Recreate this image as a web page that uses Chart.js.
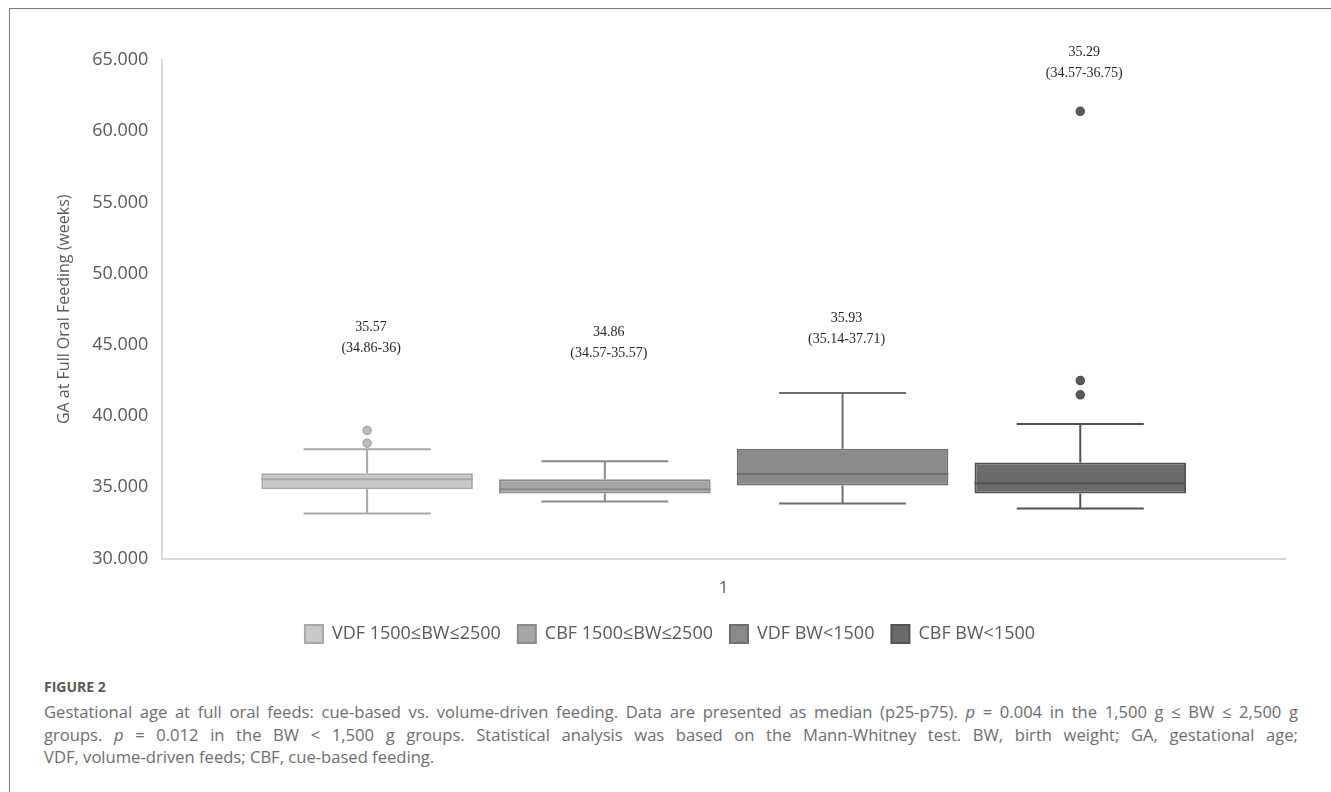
<!DOCTYPE html>
<html>
<head>
<meta charset="utf-8">
<script src="https://cdn.jsdelivr.net/npm/chart.js@4.4.1/dist/chart.umd.min.js"></script>
<style>
  html, body { margin: 0; padding: 0; background: #fff; }
  body { width: 1331px; height: 792px; position: relative; overflow: hidden; font-family: "Open Sans", sans-serif; }
  .frame { position: absolute; left: 9px; top: 8px; width: 1330px; height: 800px; border-top: 1.5px solid #7a7a7a; border-left: 1.5px solid #7a7a7a; }
  .chart-wrap { position: absolute; left: 0; top: 0; width: 1331px; height: 670px; }
  .fig-label { position: absolute; left: 44px; top: 678px; font-size: 14px; line-height: 18px; font-weight: 700; color: #58595b; }
  .caption { position: absolute; left: 44px; top: 701px; width: 1254px; font-size: 16.6px; line-height: 22.5px; color: #6d6e71; }
  .caption div { white-space: nowrap; }
  .caption .full { text-align: justify; text-align-last: justify; }
</style>
</head>
<body>
<div class="frame"></div>
<div class="chart-wrap"><canvas id="gaChart"></canvas></div>
<div class="fig-label">FIGURE 2</div>
<div class="caption">
  <div class="full">Gestational age at full oral feeds: cue-based vs. volume-driven feeding. Data are presented as median (p25-p75). <i>p</i> = 0.004 in the 1,500 g ≤ BW ≤ 2,500 g</div>
  <div class="full">groups. <i>p</i> = 0.012 in the BW &lt; 1,500 g groups. Statistical analysis was based on the Mann-Whitney test. BW, birth weight; GA, gestational age;</div>
  <div>VDF, volume-driven feeds; CBF, cue-based feeding.</div>
</div>
<script>
// groups and box plot values (weeks)
const categories = ['1'];
const groups = ['VDF 1500≤BW≤2500', 'CBF 1500≤BW≤2500', 'VDF BW<1500', 'CBF BW<1500'];
const q1 = [34.86, 34.57, 35.14, 34.57];
const medians = [35.57, 34.86, 35.93, 35.29];
const q3 = [36, 35.57, 37.71, 36.75];
const whiskerLow = [33.17, 34.01, 33.87, 33.52];
const whiskerHigh = [37.68, 36.83, 41.62, 39.44];
const outliers = [[38.1, 39.0], [], [], [41.5, 42.5, 61.4]];
const yTicks = [30, 35, 40, 45, 50, 55, 60, 65];

// annotation text, placed at these y levels
const labelLines = [
  ['35.57', '(34.86-36)'],
  ['34.86', '(34.57-35.57)'],
  ['35.93', '(35.14-37.71)'],
  ['35.29', '(34.57-36.75)']
];
const labelLevels = [46.2, 45.9, 46.9, 65.56];

const fills = ['#c9c9c9', '#a6a6a6', '#8a8a8a', '#6b6b6b'];
const strokes = ['#a8a8a8', '#8a8a8a', '#6e6e6e', '#525252'];
const dotFills = ['#bdbdbd', '#a6a6a6', '#8a8a8a', '#5a5a5a'];

const boxExtras = {
  id: 'boxExtras',
  afterDatasetsDraw(chart) {
    const ctx = chart.ctx;
    const y = chart.scales.y;
    ctx.save();
    groups.forEach((g, i) => {
      const bar = chart.getDatasetMeta(i).data[0];
      const x = bar.x, w = bar.width;
      const cap = w * 0.3;
      ctx.strokeStyle = strokes[i];
      ctx.lineWidth = 2;
      ctx.beginPath();
      // median
      ctx.moveTo(x - w / 2, y.getPixelForValue(medians[i]));
      ctx.lineTo(x + w / 2, y.getPixelForValue(medians[i]));
      // whiskers
      ctx.moveTo(x, y.getPixelForValue(q3[i]));
      ctx.lineTo(x, y.getPixelForValue(whiskerHigh[i]));
      ctx.moveTo(x, y.getPixelForValue(q1[i]));
      ctx.lineTo(x, y.getPixelForValue(whiskerLow[i]));
      ctx.moveTo(x - cap, y.getPixelForValue(whiskerHigh[i]));
      ctx.lineTo(x + cap, y.getPixelForValue(whiskerHigh[i]));
      ctx.moveTo(x - cap, y.getPixelForValue(whiskerLow[i]));
      ctx.lineTo(x + cap, y.getPixelForValue(whiskerLow[i]));
      ctx.stroke();
      // outliers
      outliers[i].forEach(v => {
        ctx.beginPath();
        ctx.arc(x, y.getPixelForValue(v), 4, 0, Math.PI * 2);
        ctx.fillStyle = dotFills[i];
        ctx.fill();
        ctx.lineWidth = 1.5;
        ctx.stroke();
      });
      // median (p25-p75) text
      ctx.fillStyle = '#262626';
      ctx.font = '14px "Liberation Serif", serif';
      ctx.textAlign = 'center';
      ctx.textBaseline = 'middle';
      const top = y.getPixelForValue(labelLevels[i]);
      labelLines[i].forEach((t, k) => ctx.fillText(t, x + 4, top + k * 21));
    });
    ctx.restore();
  }
};

const datasets = groups.map((g, i) => ({
  label: g,
  data: [[q1[i], q3[i]]],
  backgroundColor: fills[i],
  borderColor: strokes[i],
  borderWidth: 2,
  borderSkipped: false,
  categoryPercentage: 0.847,
  barPercentage: 0.89
}));

const ctx = document.getElementById('gaChart').getContext('2d');
const chart = new Chart(ctx, {
  type: 'bar',
  data: { labels: categories, datasets: datasets },
  options: {
    responsive: true,
    maintainAspectRatio: false,
    animation: false,
    layout: { padding: { left: 55, right: 46, top: 60, bottom: 17 } },
    plugins: {
      tooltip: { enabled: false },
      legend: {
        position: 'bottom',
        labels: {
          boxWidth: 18,
          boxHeight: 18,
          padding: 17,
          color: '#595959',
          font: { family: '"Open Sans", sans-serif', size: 18 }
        }
      }
    },
    scales: {
      x: {
        grid: { display: false },
        border: { color: '#d9d9d9', width: 2 },
        ticks: { color: '#595959', padding: 11, font: { family: '"Open Sans", sans-serif', size: 17 } },
        afterFit: s => { s.height -= 1; }
      },
      y: {
        min: 30,
        max: 65,
        afterBuildTicks: s => { s.ticks = yTicks.map(v => ({ value: v })); },
        grid: { display: false, drawTicks: false },
        border: { color: '#d9d9d9', width: 2 },
        ticks: {
          color: '#595959',
          padding: 14,
          font: { family: '"Open Sans", sans-serif', size: 18 },
          callback: v => Number(v).toFixed(3)
        },
        title: {
          display: true,
          text: 'GA at Full Oral Feeding (weeks)',
          color: '#595959',
          font: { family: '"Open Sans", sans-serif', size: 16 },
          padding: { top: 0, bottom: 4 }
        }
      }
    }
  },
  plugins: [boxExtras]
});
</script>
</body>
</html>
